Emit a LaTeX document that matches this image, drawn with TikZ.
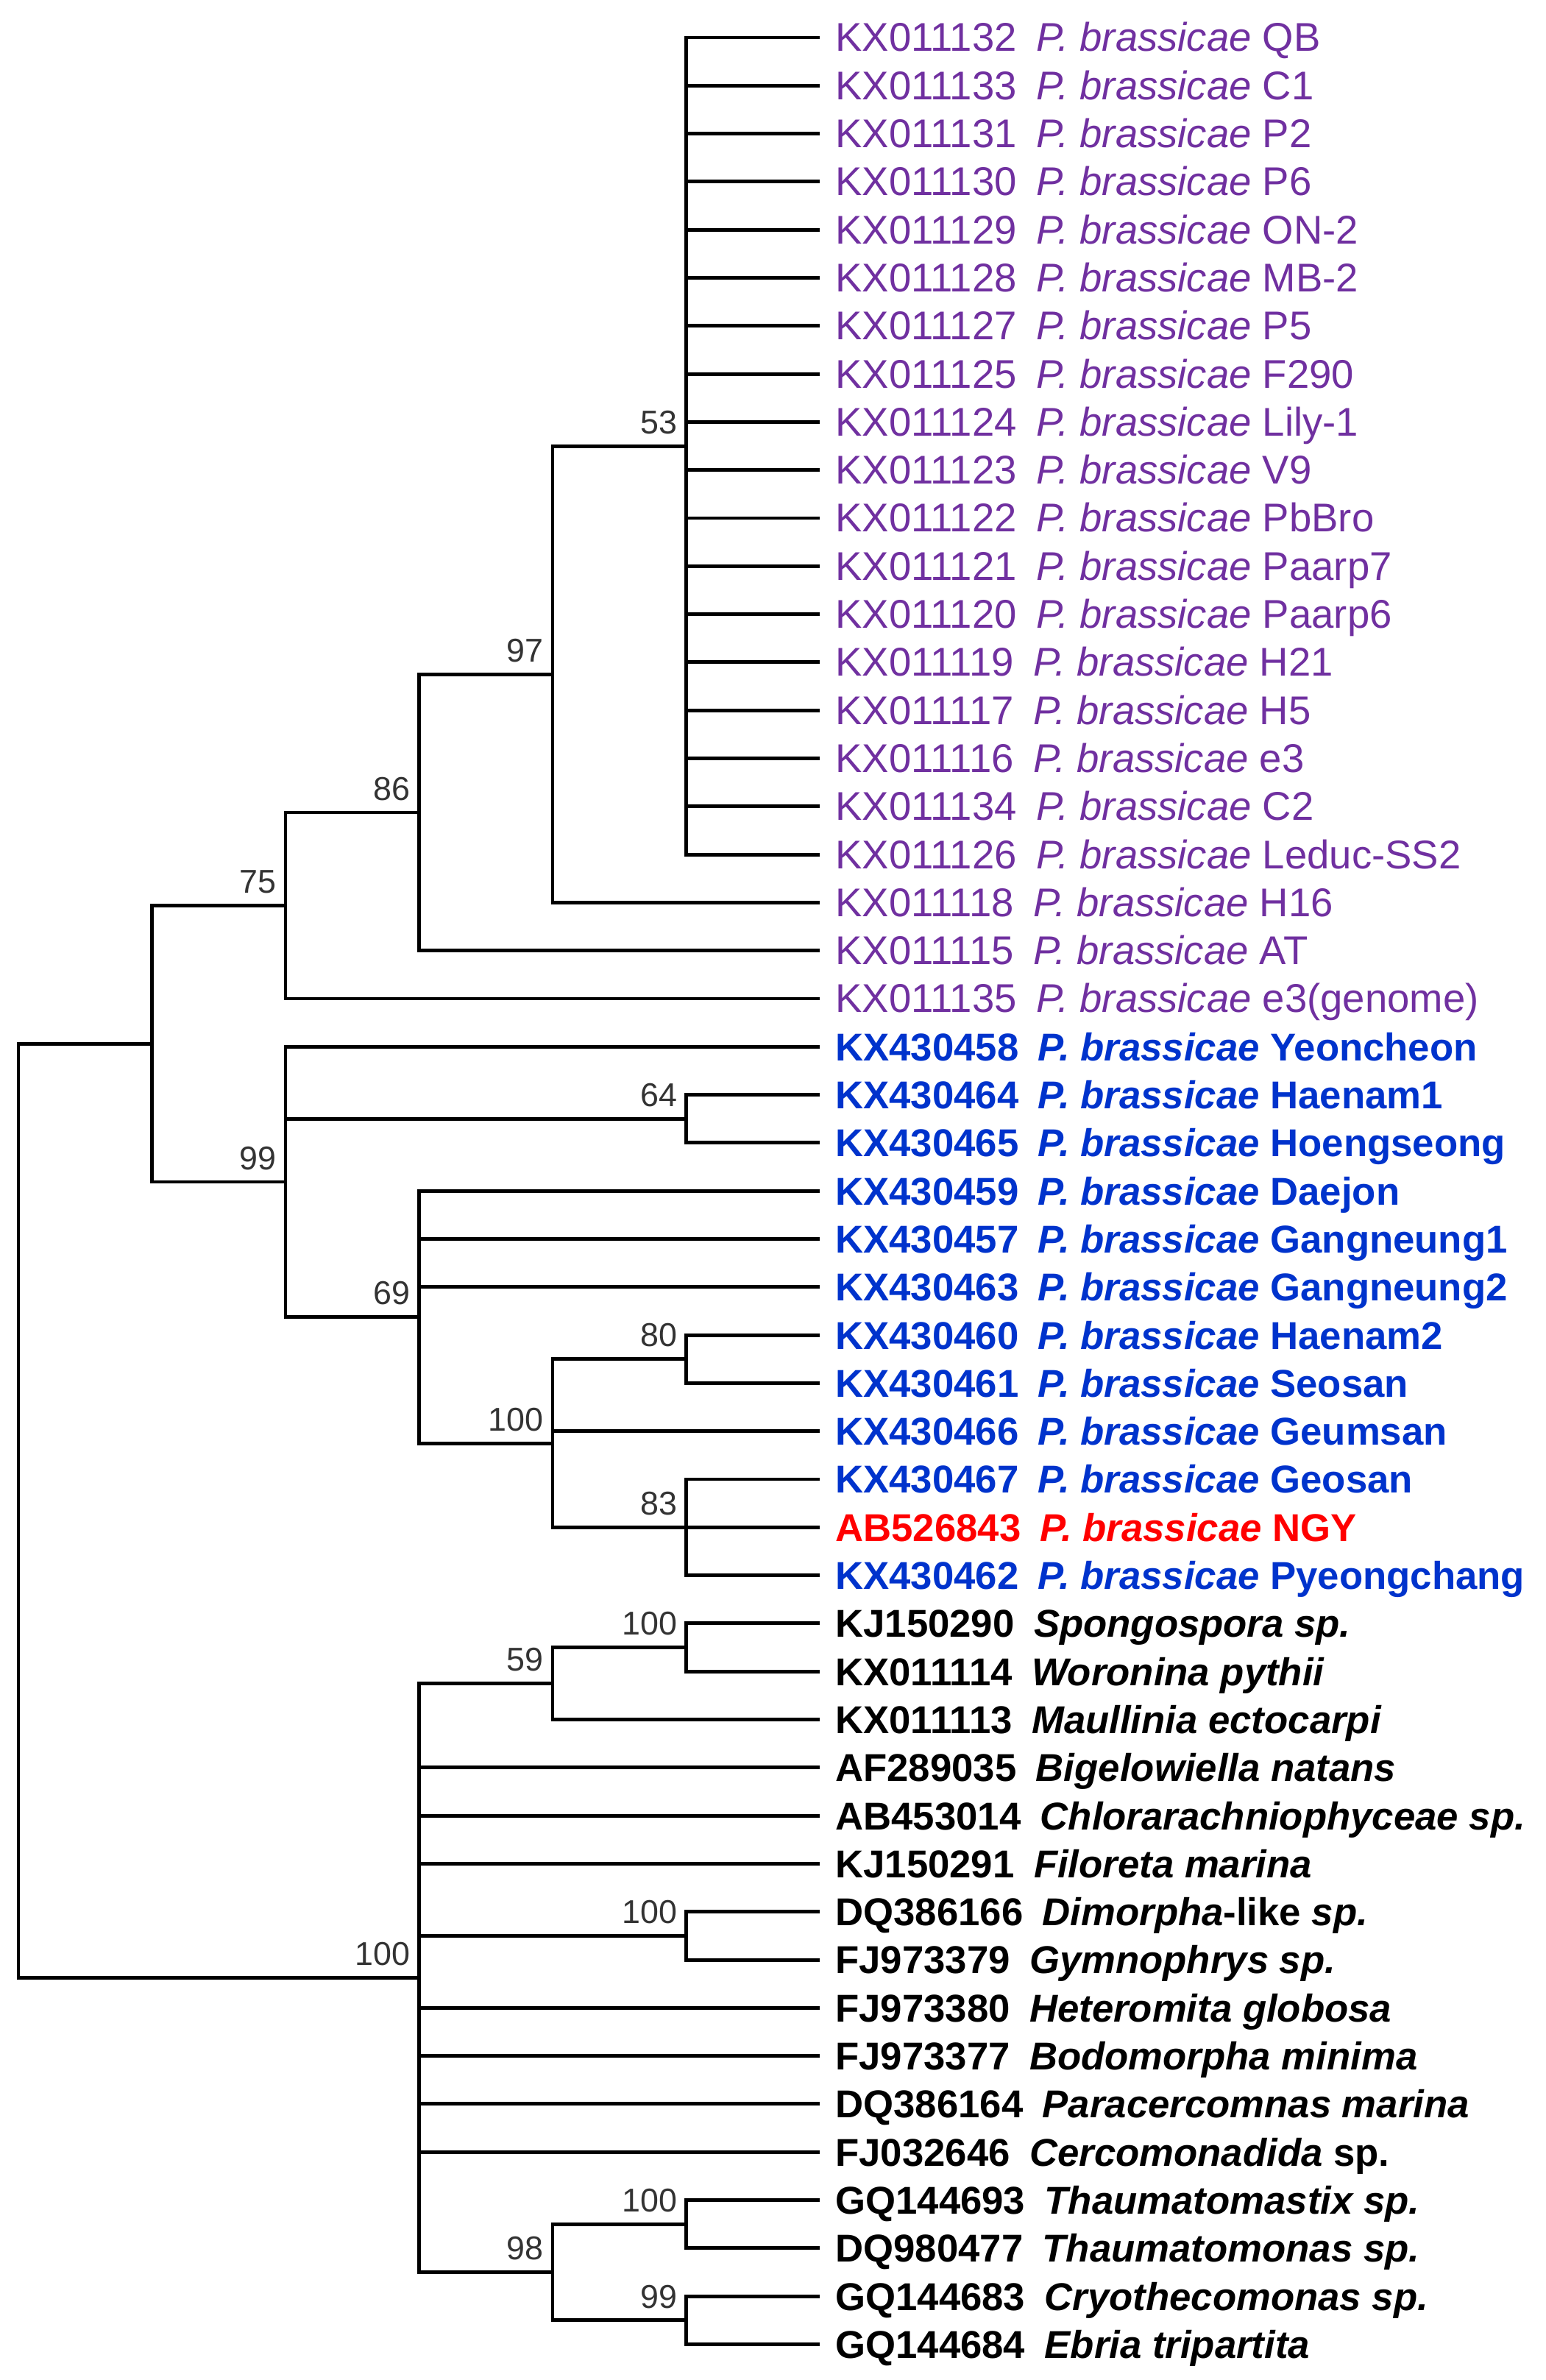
\documentclass[tikz,border=0pt]{standalone}
\usepackage{fontspec}
\setmainfont{Liberation Sans}
\usetikzlibrary{positioning}
\definecolor{pbpurple}{RGB}{112,48,160}
\definecolor{krblue}{RGB}{0,51,204}
\definecolor{bootgray}{RGB}{51,51,51}
\newcommand{\leaffont}{\fontsize{30}{36}\selectfont}
\newcommand{\pbr}[1]{\textit{P. brassicae} #1}
\newcommand{\accgap}{\hspace{15pt}}
\tikzset{branch/.style={
  draw=black,
  line width=2.8pt,
  line join=miter,
  },
  leaf/.style={
  inner sep=0pt,
  text height=21.5pt,
  text depth=0pt,
  font=\leaffont,
  },
  boot/.style={
  text=bootgray,
  font=\fontsize{25.5}{30}\selectfont,
  inner xsep=0.24cm,
  inner ysep=0.32cm,
  }
  }

\begin{document}
\begin{tikzpicture}[x=3.63cm, y=-1.306cm]
  \useasboundingbox (-0.1377,-0.781) rectangle (11.4325,48.744);

  % tips
  \foreach \i in {0,...,48}
    \coordinate (t\i) at (6,\i);

  % P. brassicae, Canada
  \foreach \acc/\nm [count=\i from 0] in {KX011132/QB, KX011133/C1, KX011131/P2,
      KX011130/P6, KX011129/ON-2, KX011128/MB-2, KX011127/P5, KX011125/F290,
      KX011124/Lily-1, KX011123/V9, KX011122/PbBro, KX011121/Paarp7,
      KX011120/Paarp6, KX011119/H21, KX011117/H5, KX011116/e3, KX011134/C2,
      KX011126/Leduc-SS2, KX011118/H16, KX011115/AT, KX011135/e3(genome)}
    \node[leaf, font=\fontsize{31}{36}\selectfont, text=pbpurple, right=0.42cm of t\i] (l\i) {\acc\accgap\pbr{\nm}};

  % P. brassicae, Korea and Japan
  \foreach \acc/\nm/\col [count=\i from 21] in {KX430458/Yeoncheon/krblue,
      KX430464/Haenam1/krblue, KX430465/Hoengseong/krblue, KX430459/Daejon/krblue,
      KX430457/Gangneung1/krblue, KX430463/Gangneung2/krblue,
      KX430460/Haenam2/krblue, KX430461/Seosan/krblue, KX430466/Geumsan/krblue,
      KX430467/Geosan/krblue, AB526843/NGY/red, KX430462/Pyeongchang/krblue}
    \node[leaf, font=\leaffont\bfseries, text=\col, right=0.42cm of t\i] (l\i) {\acc\accgap\pbr{\nm}};

  % outgroups
  \foreach \acc/\nm [count=\i from 33] in {KJ150290/{\textit{Spongospora sp.}},
      KX011114/{\textit{Woronina pythii}}, KX011113/{\textit{Maullinia ectocarpi}},
      AF289035/{\textit{Bigelowiella natans}},
      AB453014/{\textit{Chlorarachniophyceae sp.}},
      KJ150291/{\textit{Filoreta marina}}, DQ386166/{\textit{Dimorpha}-like \textit{sp.}},
      FJ973379/{\textit{Gymnophrys sp.}}, FJ973380/{\textit{Heteromita globosa}},
      FJ973377/{\textit{Bodomorpha minima}}, DQ386164/{\textit{Paracercomnas marina}},
      FJ032646/{\textit{Cercomonadida} sp.}, GQ144693/{\textit{Thaumatomastix sp.}},
      DQ980477/{\textit{Thaumatomonas sp.}}, GQ144683/{\textit{Cryothecomonas sp.}},
      GQ144684/{\textit{Ebria tripartita}}}
    \node[leaf, font=\leaffont\bfseries, right=0.42cm of t\i] (l\i) {\acc\accgap\nm};

  % internal nodes
  \coordinate (root) at (0,30.65625);
  \coordinate (nA) at (1,20.9375);
  \coordinate[label={[boot]above left:75}] (n75) at (2,18.0625);
  \coordinate[label={[boot]above left:86}] (n86) at (3,16.125);
  \coordinate[label={[boot]above left:97}] (n97) at (4,13.25);
  \coordinate[label={[boot]above left:53}] (n53) at (5,8.5);
  \coordinate[label={[boot]above left:99}] (n99) at (2,23.8125);
  \coordinate[label={[boot]above left:64}] (n64) at (5,22.5);
  \coordinate[label={[boot]above left:69}] (n69) at (3,26.625);
  \coordinate[label={[boot]above left:100}] (n100b) at (4,29.25);
  \coordinate[label={[boot]above left:80}] (n80) at (5,27.5);
  \coordinate[label={[boot]above left:83}] (n83) at (5,31);
  \coordinate[label={[boot]above left:100}] (n100o) at (3,40.375);
  \coordinate[label={[boot]above left:59}] (n59) at (4,34.25);
  \coordinate[label={[boot]above left:100}] (n100c) at (5,33.5);
  \coordinate[label={[boot]above left:100}] (n100d) at (5,39.5);
  \coordinate[label={[boot]above left:98}] (n98) at (4,46.5);
  \coordinate[label={[boot]above left:100}] (n100e) at (5,45.5);
  \coordinate[label={[boot]above left:99}] (n99b) at (5,47.5);

  % branches
  \foreach \i in {0,...,17}
    \draw[branch] (n53) |- (t\i);
  \foreach \p/\kids in {root/{nA,n100o}, nA/{n75,n99}, n75/{n86,t20},
      n86/{n97,t19}, n97/{n53,t18}, n99/{t21,n64,n69}, n64/{t22,t23},
      n69/{t24,t25,t26,n100b}, n100b/{n80,t29,n83}, n80/{t27,t28},
      n83/{t30,t31,t32}, n100o/{n59,t36,t37,t38,n100d,t41,t42,t43,t44,n98},
      n59/{n100c,t35}, n100c/{t33,t34}, n100d/{t39,t40}, n98/{n100e,n99b},
      n100e/{t45,t46}, n99b/{t47,t48}}
    \foreach \c in \kids
      \draw[branch] (\p) |- (\c);
\end{tikzpicture}
\end{document}
